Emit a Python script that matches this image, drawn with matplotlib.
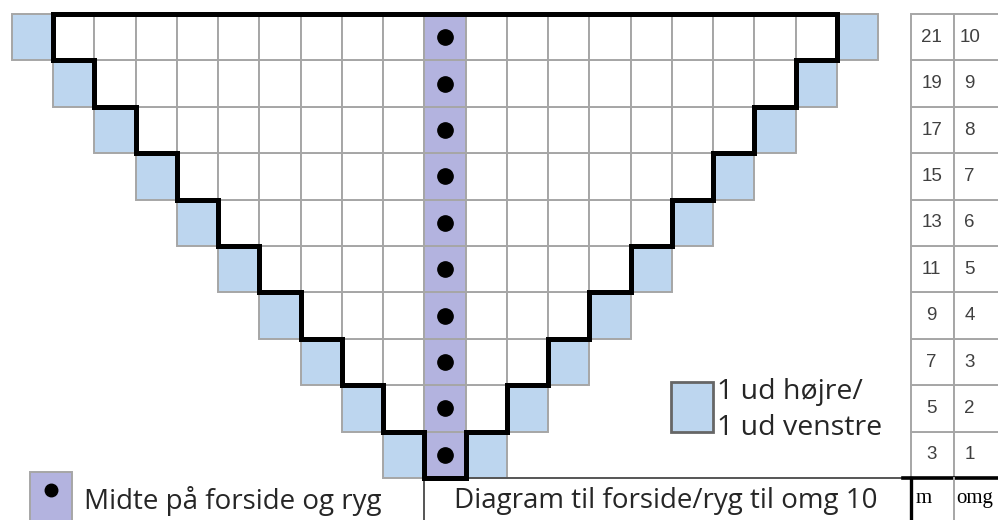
import matplotlib
matplotlib.use('Agg')
import matplotlib.pyplot as plt
from matplotlib.patches import Rectangle

# omgange (rækker) og antal masker pr. omgang
omg = [1, 2, 3, 4, 5, 6, 7, 8, 9, 10]
masker = [3, 5, 7, 9, 11, 13, 15, 17, 19, 21]

BLAA = '#bdd6ef'
LILLA = '#b3b3df'
GRAA = '#a6a6a6'

fig = plt.figure(figsize=(9.98, 5.2), dpi=100, facecolor='white')
ax = fig.add_axes([0, 0, 1, 1])
ax.set_xlim(-10.791, 13.409)
ax.set_ylim(-0.905, 10.302)
ax.axis('off')

# celler: hvid indeni, blå udtagning i hver side, lilla midtermaske
for r, m in zip(omg, masker):
    half = (m - 1) // 2
    y0 = r - 1
    for c in range(-half, half + 1):
        if abs(c) == half:
            fc = BLAA
        elif c == 0:
            fc = LILLA
        else:
            fc = 'white'
        ax.add_patch(Rectangle((c - 0.5, y0), 1, 1, facecolor=fc,
                               edgecolor=GRAA, linewidth=1.4, zorder=1))
    ax.plot(0, y0 + 0.5, 'o', color='black', markersize=11, zorder=4)

# tyk trappekant rundt om diagrammet
xs, ys = [], []
for r, m in zip(reversed(omg), reversed(masker)):
    inner = (m - 1) // 2 - 1
    xs += [-inner - 0.5, -inner - 0.5]
    ys += [r, r - 1]
left_x, left_y = xs, ys
right_x = [-x for x in reversed(left_x)]
right_y = list(reversed(left_y))
ax.plot(left_x + right_x + [left_x[0]], left_y + right_y + [left_y[0]],
        color='black', linewidth=3.6, solid_joinstyle='miter', zorder=5)

# tabel til højre: masker og omgange
tx = [11.3, 12.345, 13.5]
tekst_x = [11.8, 12.72]
for r, m in zip(omg, masker):
    for i, val in enumerate([m, r]):
        ax.add_patch(Rectangle((tx[i], r - 1), tx[i + 1] - tx[i], 1, facecolor='white',
                               edgecolor=GRAA, linewidth=1.4, zorder=1))
        ax.text(tekst_x[i], r - 0.5, str(val),
                ha='center', va='center', fontsize=13.5, color='#404040',
                family='Liberation Sans', zorder=3)
ax.text(11.4, -0.44, 'm', ha='left', va='center', fontsize=15,
        family='Liberation Serif', color='black')
ax.text(12.39, -0.44, 'omg', ha='left', va='center', fontsize=15,
        family='Liberation Serif', color='black')

# bundlinjer
ax.plot([0.5, 11.1], [0, 0], color='#555555', linewidth=1.4, zorder=2)
ax.plot([11.1, 13.5], [0, 0], color='black', linewidth=2.6, zorder=2)
ax.plot([-0.5, -0.5], [0, -1], color='#555555', linewidth=1.4, zorder=2)
ax.plot([tx[0], tx[0]], [0, -1], color='black', linewidth=2.4, zorder=2)
ax.plot([tx[1], tx[1]], [0, -1], color=GRAA, linewidth=1.4, zorder=2)

# signaturforklaring
ax.add_patch(Rectangle((-10.06, -1.2), 1.01, 1.33, facecolor=LILLA,
                       edgecolor=GRAA, linewidth=1.4, zorder=1))
ax.plot(-9.55, -0.26, 'o', color='black', markersize=9, zorder=4)
ax.text(-8.76, -0.5, 'Midte på forside og ryg', ha='left', va='center',
        fontsize=20, family='Open Sans', color='#262626')

ax.add_patch(Rectangle((5.47, 1.0), 1.04, 1.06, facecolor=BLAA,
                       edgecolor='#666666', linewidth=2.0, zorder=1))
ax.text(6.6, 1.85, '1 ud højre/', ha='left', va='center',
        fontsize=20.5, family='Open Sans', color='#262626')
ax.text(6.6, 1.07, '1 ud venstre', ha='left', va='center',
        fontsize=20.5, family='Open Sans', color='#262626')

ax.text(5.35, -0.5, 'Diagram til forside/ryg til omg 10', ha='center', va='center',
        fontsize=20, family='Open Sans', color='#262626')

plt.savefig('out.png', dpi=100, facecolor='white')
plt.close()
